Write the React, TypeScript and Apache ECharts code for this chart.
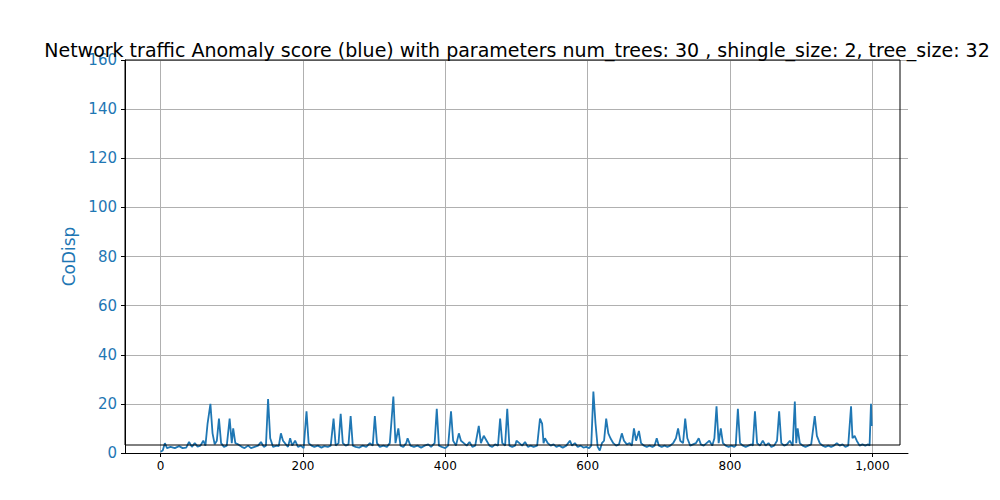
import React, { useEffect, useRef } from 'react';
import * as echarts from 'echarts';

// sparse (index, CoDisp) readings taken from the reference plot
const scorePoints: [number, number][] = [
  [0, 0.5], [3, 1], [6, 4], [9, 2], [14, 2.5], [20, 2], [26, 2.8], [31, 2], [36, 2.2], [40, 4.5], [44, 2.5],
  [48, 4], [52, 2.6], [56, 3], [60, 5], [63, 3], [66, 12], [70, 20], [73, 8], [76, 3.5], [79, 5], [82, 14],
  [85, 4], [89, 2.5], [93, 3], [97, 14], [100, 4], [102, 10], [105, 4], [109, 3.5], [114, 2.5], [118, 2],
  [123, 3], [127, 2], [132, 2.5], [137, 3], [141, 4.5], [145, 2.5], [148, 3], [151, 22], [154, 6], [158, 2.5],
  [163, 3], [166, 2.8], [169, 8], [172, 5], [176, 3.5], [179, 2.5], [182, 6], [185, 3], [189, 5], [193, 2.5],
  [197, 3], [201, 2], [205, 17], [208, 4], [212, 3], [216, 2.5], [221, 3], [226, 2.2], [230, 2.8], [235, 2.5],
  [239, 3], [243, 14], [246, 3], [250, 4], [253, 16], [256, 4], [260, 3], [264, 3.5], [267, 15], [270, 3],
  [274, 2.5], [279, 2.2], [284, 3], [289, 2.5], [294, 4], [298, 3], [301, 15], [304, 4], [308, 2.5], [313, 3],
  [318, 2.5], [322, 4], [327, 23], [330, 4], [334, 10], [337, 3], [341, 2.5], [345, 4], [347, 6], [351, 3],
  [356, 2.5], [361, 3], [366, 2.2], [371, 3], [376, 3.5], [380, 2.5], [385, 4], [388, 18], [391, 3], [395, 2.5],
  [400, 2], [404, 3], [408, 17], [411, 5], [415, 3], [419, 8], [422, 5], [426, 4], [430, 3], [434, 4.5],
  [438, 2.5], [442, 3], [447, 11], [450, 4], [454, 7], [458, 5], [462, 3], [466, 2.5], [470, 3.5], [474, 3],
  [477, 14], [480, 4], [484, 3], [487, 18], [490, 3], [494, 2.5], [498, 3], [500, 5], [504, 4], [508, 3],
  [512, 4.5], [516, 2.5], [520, 3], [524, 2.5], [529, 3], [533, 14], [536, 12], [538, 4], [540, 6], [544, 4],
  [548, 3], [552, 3.5], [556, 2.5], [560, 3], [565, 2.2], [570, 3], [575, 5], [578, 3], [582, 4], [586, 2.5],
  [590, 3], [594, 2.2], [598, 2.5], [602, 2], [605, 3], [608, 25], [611, 12], [614, 2.5], [617, 1], [620, 4],
  [623, 5], [626, 14], [629, 8], [632, 6], [636, 4], [640, 3], [644, 3.5], [648, 8], [651, 5], [655, 3.5],
  [659, 4], [662, 3], [665, 10], [668, 5], [672, 9], [675, 4], [679, 3], [683, 2.5], [687, 3], [691, 2.5],
  [694, 3], [697, 6], [700, 3], [704, 2.5], [708, 3], [712, 2.5], [716, 3], [720, 4], [724, 6], [727, 10],
  [730, 5], [734, 4], [737, 14], [740, 6], [744, 3], [748, 3.5], [752, 4], [756, 6], [759, 3.5], [763, 3],
  [767, 4], [771, 5], [775, 3], [778, 6], [781, 19], [784, 4], [787, 10], [790, 4], [794, 3], [798, 2.5],
  [802, 3], [806, 2.5], [808, 3], [811, 18], [814, 4], [818, 3], [822, 2.5], [826, 3], [830, 3.5], [832, 3],
  [835, 17], [838, 4], [842, 3], [846, 5], [850, 3], [854, 4], [858, 2.5], [862, 3], [866, 5], [869, 17],
  [872, 4], [876, 3], [880, 3.5], [884, 5], [888, 3], [891, 21], [893, 4], [895, 10], [898, 4], [902, 3],
  [906, 2.5], [910, 3], [914, 3.5], [919, 15], [922, 7], [926, 4], [930, 3], [934, 2.5], [938, 3], [942, 2.5],
  [946, 3], [950, 4], [954, 3], [958, 3.5], [962, 2.5], [966, 3], [970, 19], [972, 6], [975, 7], [978, 5],
  [982, 3], [986, 3.5], [990, 3], [994, 3.5], [996, 3], [998, 20], [999, 11],
];

const xTicks = [0, 200, 400, 600, 800, 1000];

export default function App() {
  const ref = useRef<HTMLDivElement | null>(null);

  useEffect(() => {
    if (!ref.current) return;
    const chart = echarts.init(ref.current, null, { renderer: 'svg' });
    chart.setOption({
      animation: false,
      backgroundColor: '#ffffff',
      title: {
        text: 'Network traffic Anomaly score (blue) with parameters num_trees: 30 , shingle_size: 2, tree_size: 32',
        left: 504,
        top: 27,
        textAlign: 'center',
        textStyle: { fontFamily: 'DejaVu Sans', fontSize: 19, fontWeight: 'normal', color: '#000' },
      },
      grid: { left: 117, right: 92, top: 52, bottom: 47 },
      xAxis: {
        type: 'value',
        min: -50,
        max: 1050,
        axisLine: { onZero: false, lineStyle: { color: '#000' } },
        axisTick: { customValues: xTicks, lineStyle: { color: '#000' }, length: 4 },
        axisLabel: {
          customValues: xTicks,
          color: '#000',
          fontFamily: 'DejaVu Sans',
          fontSize: 12,
          margin: 7,
        },
        splitLine: { show: true, lineStyle: { color: '#b0b0b0' } },
      },
      yAxis: {
        type: 'value',
        min: 0,
        max: 160,
        interval: 20,
        name: 'CoDisp',
        nameLocation: 'middle',
        nameGap: 42,
        nameTextStyle: { color: '#1f77b4', fontFamily: 'DejaVu Sans', fontSize: 17 },
        axisLine: { show: true, onZero: false, lineStyle: { color: '#000' } },
        axisTick: { show: true, lineStyle: { color: '#000' }, length: 4 },
        axisLabel: { color: '#1f77b4', fontFamily: 'DejaVu Sans', fontSize: 15 },
        splitLine: { show: true, lineStyle: { color: '#b0b0b0' } },
      },
      series: [
        {
          type: 'line',
          data: scorePoints,
          showSymbol: false,
          lineStyle: { color: '#1f77b4', width: 1.8 },
          itemStyle: { color: '#1f77b4' },
        },
      ],
      graphic: [
        { type: 'rect', shape: { x: 117, y: 52, width: 775, height: 385 }, style: { fill: 'none', stroke: '#000', lineWidth: 1 }, z: 10 },
      ],
    });
    return () => chart.dispose();
  }, []);

  return <div ref={ref} style={{ width: 992, height: 492 }} />;
}
